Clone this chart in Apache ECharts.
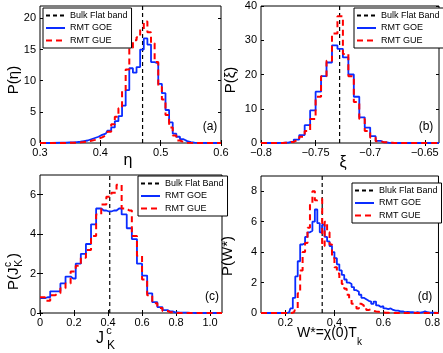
<!DOCTYPE html>
<html>
<head>
<meta charset="utf-8">
<script src="https://cdn.jsdelivr.net/npm/echarts@6/dist/echarts.min.js"></script>
<style>
  html, body { margin: 0; padding: 0; background: #fff; }
  #chart { width: 443px; height: 353px; }
</style>
</head>
<body>
<div id="chart"></div>
<script>
// (a) eta histogram, bin centres
const aEta = [0.3, 0.337, 0.343, 0.349, 0.355, 0.361, 0.367, 0.373, 0.379, 0.385, 0.391, 0.397, 0.403, 0.409, 0.415, 0.421, 0.427, 0.433, 0.439, 0.445, 0.451, 0.457, 0.463, 0.469, 0.475, 0.481, 0.487, 0.493, 0.499, 0.505, 0.511, 0.517, 0.523, 0.529, 0.535, 0.541, 0.547, 0.553, 0.559, 0.565, 0.6]
const aGOE = [0, 0.05, 0.05, 0.1, 0.1, 0.15, 0.2, 0.3, 0.4, 0.6, 0.8, 1.0, 1.3, 1.5, 2.0, 2.5, 3.5, 4.3, 6.0, 8.5, 12.0, 11.3, 12.2, 15.0, 16.8, 15.8, 13.0, 12.8, 9.5, 8.0, 5.3, 3.3, 1.5, 1.0, 0.6, 0.3, 0.15, 0.05, 0.02, 0, 0]
const aGUE = [0, 0, 0, 0.03, 0.05, 0.05, 0.1, 0.15, 0.25, 0.35, 0.5, 0.7, 0.9, 1.2, 1.8, 3.0, 4.2, 5.6, 8.5, 11.8, 15.3, 16.5, 17.0, 18.3, 19.5, 17.8, 16.0, 13.0, 9.0, 7.0, 4.5, 2.5, 1.2, 0.4, 0.15, 0.05, 0.02, 0, 0, 0, 0]
const aFlat = 0.47

// (b) xi histogram
const bXi = [-0.8, -0.7875, -0.7825, -0.7775, -0.7725, -0.7675, -0.7625, -0.7575, -0.7525, -0.7475, -0.7425, -0.7375, -0.7325, -0.7275, -0.7225, -0.7175, -0.7125, -0.7075, -0.7025, -0.6975, -0.6925, -0.6875, -0.6825, -0.6775, -0.637]
const bGOE = [0, 0, 0.05, 0.1, 0.3, 1.0, 2.3, 5.2, 9.5, 15.0, 19.5, 23.5, 28.5, 27.5, 25.0, 20.0, 13.5, 7.5, 4.5, 2.0, 0.6, 0.2, 0.05, 0, 0]
const bGUE = [0, 0, 0, 0.1, 0.3, 0.8, 1.8, 3.5, 7.0, 13.5, 19.5, 24.0, 32.0, 37.0, 26.0, 19.5, 12.0, 7.0, 3.5, 1.5, 0.5, 0.2, 0.05, 0, 0]
const bFlat = -0.728

// (c) J_K^c histogram
const cJ = [0, 0.015, 0.045, 0.075, 0.105, 0.135, 0.165, 0.195, 0.225, 0.255, 0.285, 0.315, 0.345, 0.375, 0.405, 0.435, 0.465, 0.495, 0.525, 0.555, 0.585, 0.615, 0.645, 0.675, 0.705, 0.735, 0.765, 0.795, 0.825, 0.855, 0.885, 0.915, 1.07]
const cGOE = [0.75, 0.75, 0.8, 1.1, 1.1, 1.5, 1.85, 1.75, 2.5, 3.0, 3.5, 4.5, 5.3, 5.2, 5.15, 5.2, 5.3, 5.0, 4.3, 3.75, 2.5, 1.9, 1.0, 0.55, 0.3, 0.15, 0.08, 0.03, 0.02, 0.02, 0.01, 0, 0]
const cGUE = [0.8, 0.8, 0.62, 0.9, 1.0, 1.25, 1.5, 2.1, 2.4, 2.8, 3.2, 3.9, 5.0, 5.5, 5.9, 6.1, 6.5, 5.3, 5.2, 3.9, 2.9, 1.7, 0.9, 0.5, 0.25, 0.1, 0.04, 0, 0, 0, 0, 0, 0]
const cFlat = 0.41

// (d) W* histogram
const dW = [0.1, 0.195, 0.205, 0.215, 0.225, 0.235, 0.245, 0.255, 0.265, 0.275, 0.285, 0.295, 0.305, 0.315, 0.325, 0.335, 0.345, 0.355, 0.365, 0.375, 0.385, 0.395, 0.405, 0.415, 0.425, 0.435, 0.445, 0.455, 0.465, 0.475, 0.485, 0.495, 0.505, 0.515, 0.525, 0.535, 0.545, 0.555, 0.565, 0.575, 0.585, 0.595, 0.605, 0.615, 0.625, 0.635, 0.645, 0.655, 0.665, 0.675, 0.685, 0.695, 0.705, 0.715, 0.725, 0.735, 0.745, 0.755, 0.765, 0.775, 0.785, 0.795, 0.825]
const dGOE = [0, 0, 0, 0.05, 0.3, 1.0, 2.4, 3.4, 4.5, 4.6, 5.0, 5.3, 5.4, 6.0, 6.8, 5.9, 5.3, 5.8, 5.0, 4.7, 4.4, 4.0, 3.6, 3.2, 2.8, 2.5, 2.2, 2.0, 1.9, 1.7, 1.5, 1.4, 1.2, 1.0, 0.9, 0.8, 0.75, 0.6, 0.75, 0.5, 0.4, 0.45, 0.3, 0.25, 0.3, 0.2, 0.15, 0.15, 0.1, 0.1, 0.05, 0.08, 0.05, 0.05, 0.03, 0.05, 0.03, 0.05, 0.1, 0.05, 0.03, 0.02, 0]
const dGUE = [0, 0, 0, 0, 0, 0.05, 0.3, 1.3, 2.8, 4.0, 4.6, 5.6, 7.2, 8.0, 7.4, 7.5, 7.5, 4.4, 6.0, 5.3, 4.5, 3.6, 3.0, 2.6, 2.2, 1.9, 1.6, 1.2, 0.9, 0.6, 0.5, 0.3, 0.6, 0.5, 0.35, 0.2, 0.25, 0.15, 0.1, 0.08, 0.05, 0.03, 0.02, 0.02, 0, 0, 0, 0, 0, 0, 0, 0, 0, 0, 0, 0, 0, 0, 0, 0, 0, 0, 0]
const dFlat = 0.35

// tick labels
const aTicksX = [0.3, 0.4, 0.5, 0.6]
const aTicksY = [0, 5, 10, 15, 20]
const bTicksX = [-0.8, -0.75, -0.7, -0.65]
const bTicksY = [0, 10, 20, 30, 40]
const cTicksX = [0, 0.2, 0.4, 0.6, 0.8, 1.0]
const cTicksY = [0, 2, 4, 6]
const dTicksX = [0.2, 0.4, 0.6, 0.8]
const dTicksY = [0, 2, 4, 6, 8]

const FONT = 'Liberation Sans, Arial, sans-serif'
const BLUE = '#0a2cff'
const RED = '#ff0000'

let myChart = echarts.init(document.getElementById('chart'), null, { renderer: 'canvas' })

function fmtX (v) {
  if (v === 0) return '0'
  let s = String(+v.toFixed(3))
  if (Math.abs(v) === 1) s = Math.abs(v).toFixed(1)
  return s.replace('-', '\u2212')
}

function xAx (gi, min, max, ticks, top) {
  return {
    type: 'value',
    gridIndex: gi,
    position: top ? 'top' : 'bottom',
    min: min,
    max: max,
    axisLine: { show: false },
    splitLine: { show: false },
    axisTick: { inside: true, length: 3, customValues: ticks, lineStyle: { color: '#000' } },
    axisLabel: {
      show: !top,
      customValues: ticks,
      margin: 4,
      color: '#000',
      fontSize: 11,
      fontFamily: FONT,
      formatter: fmtX
    }
  }
}

function yAx (gi, min, max, ticks, right) {
  return {
    type: 'value',
    gridIndex: gi,
    position: right ? 'right' : 'left',
    min: min,
    max: max,
    axisLine: { show: false },
    splitLine: { show: false },
    axisTick: { inside: true, length: 3, customValues: ticks, lineStyle: { color: '#000' } },
    axisLabel: {
      show: !right,
      customValues: ticks,
      margin: 4,
      color: '#000',
      fontSize: 11,
      fontFamily: FONT
    }
  }
}

function pairs (xs, ys) {
  return xs.map(function (x, i) { return [x, ys[i]] })
}

function stepLine (name, gi, xs, ys, color, dashed) {
  return {
    name: name,
    type: 'line',
    step: 'middle',
    xAxisIndex: gi,
    yAxisIndex: gi,
    symbol: 'none',
    animation: false,
    data: pairs(xs, ys),
    lineStyle: { color: color, width: dashed ? 2 : 1.8, type: dashed ? [6, 4] : 'solid' },
    itemStyle: { color: color }
  }
}

function flatLine (name, gi, x, ymax) {
  return {
    name: name,
    type: 'line',
    xAxisIndex: gi,
    yAxisIndex: gi,
    symbol: 'none',
    animation: false,
    data: [[x, 0], [x, ymax]],
    lineStyle: { color: '#000', width: 1.2, type: [4, 3] },
    itemStyle: { color: '#000' }
  }
}

function legendBox (names, left, top) {
  return {
    data: names,
    left: left,
    top: top,
    orient: 'vertical',
    align: 'left',
    selectedMode: false,
    itemWidth: 19,
    itemHeight: 10,
    itemGap: 3.5,
    padding: [3, 4, 3, 2],
    borderColor: '#000',
    borderWidth: 1,
    borderRadius: 0,
    backgroundColor: '#fff',
    itemStyle: { opacity: 0 },
    textStyle: { fontSize: 9, color: '#000', fontFamily: FONT }
  }
}

function txt (text, x, y, size, rot) {
  return {
    type: 'text',
    x: x,
    y: y,
    rotation: rot || 0,
    z: 100,
    style: {
      text: text,
      font: size + 'px ' + FONT,
      fill: '#000',
      textAlign: 'center',
      textVerticalAlign: 'middle'
    }
  }
}

function txtL (text, x, y, size) {
  return {
    type: 'text',
    x: x,
    y: y,
    style: { text: text, font: size + 'px ' + FONT, fill: '#000', textAlign: 'left', textVerticalAlign: 'middle' }
  }
}

const grids = [
  { left: 40, top: 6, width: 181, height: 137 },
  { left: 261, top: 6, width: 178, height: 137 },
  { left: 40, top: 175, width: 182, height: 138 },
  { left: 261, top: 176, width: 178, height: 137 }
].map(function (g) {
  return Object.assign({ show: true, borderColor: '#000', borderWidth: 1, backgroundColor: 'transparent' }, g)
})

myChart.setOption({
  animation: false,
  grid: grids,
  xAxis: [
    xAx(0, 0.3, 0.6, aTicksX), xAx(1, -0.8, -0.637, bTicksX), xAx(2, 0, 1.07, cTicksX), xAx(3, 0.1, 0.825, dTicksX),
    xAx(0, 0.3, 0.6, aTicksX, true), xAx(1, -0.8, -0.637, bTicksX, true), xAx(2, 0, 1.07, cTicksX, true), xAx(3, 0.1, 0.825, dTicksX, true)
  ],
  yAxis: [
    yAx(0, 0, 22, aTicksY), yAx(1, 0, 40, bTicksY), yAx(2, 0, 7, cTicksY), yAx(3, 0, 9, dTicksY),
    yAx(0, 0, 22, aTicksY, true), yAx(1, 0, 40, bTicksY, true), yAx(2, 0, 7, cTicksY, true), yAx(3, 0, 9, dTicksY, true)
  ],
  legend: [
    legendBox(['Bulk Flat band', 'RMT GOE', 'RMT GUE'], 43, 8),
    legendBox(['Bulk Flat Band', 'RMT GOE', 'RMT GUE'], 354, 8),
    legendBox(['Bulk Flat Band', 'RMT GOE', 'RMT GUE'], 138, 176),
    legendBox(['Bluk Flat Band', 'RMT GOE', 'RMT GUE'], 352, 183)
  ],
  series: [
    flatLine('Bulk Flat band', 0, aFlat, 22),
    stepLine('RMT GOE', 0, aEta, aGOE, BLUE, false),
    stepLine('RMT GUE', 0, aEta, aGUE, RED, true),
    flatLine('Bulk Flat Band', 1, bFlat, 40),
    stepLine('RMT GOE', 1, bXi, bGOE, BLUE, false),
    stepLine('RMT GUE', 1, bXi, bGUE, RED, true),
    flatLine('Bulk Flat Band', 2, cFlat, 7),
    stepLine('RMT GOE', 2, cJ, cGOE, BLUE, false),
    stepLine('RMT GUE', 2, cJ, cGUE, RED, true),
    flatLine('Bluk Flat Band', 3, dFlat, 9),
    stepLine('RMT GOE', 3, dW, dGOE, BLUE, false),
    stepLine('RMT GUE', 3, dW, dGUE, RED, true)
  ],
  graphic: [
    // panel tags
    txt('(a)', 210, 127, 12), txt('(b)', 426, 127, 12),
    txt('(c)', 212, 297, 12), txt('(d)', 425, 297, 12),
    // x axis titles
    txt('\u03b7', 128, 161, 16),
    txt('\u03be', 343, 163, 16),
    txt('J', 100, 339, 16),
    txt('c', 109, 331, 11),
    txt('K', 111, 346, 12),
    txtL('W*=\u03c7(0)T', 297, 333, 14),
    txtL('k', 357, 342, 10),
    // y axis titles
    txt('P(\u03b7)', 14, 80, 15, Math.PI / 2),
    txt('P(\u03be)', 231, 80, 15, Math.PI / 2),
    txt('P(W*)', 228, 256, 15, Math.PI / 2),
    {
      type: 'group',
      x: 14,
      y: 262,
      rotation: Math.PI / 2,
      children: [
        { type: 'text', x: -28, y: 0, style: { text: 'P(J', font: '15px ' + FONT, fill: '#000', textAlign: 'left', textVerticalAlign: 'middle' } },
        { type: 'text', x: -5, y: -6, style: { text: 'c', font: '10px ' + FONT, fill: '#000', textAlign: 'left', textVerticalAlign: 'middle' } },
        { type: 'text', x: -5, y: 5, style: { text: 'K', font: '11px ' + FONT, fill: '#000', textAlign: 'left', textVerticalAlign: 'middle' } },
        { type: 'text', x: 4, y: 0, style: { text: ')', font: '15px ' + FONT, fill: '#000', textAlign: 'left', textVerticalAlign: 'middle' } }
      ]
    }
  ]
})
window.onresize = myChart.resize
</script>
</body>
</html>
